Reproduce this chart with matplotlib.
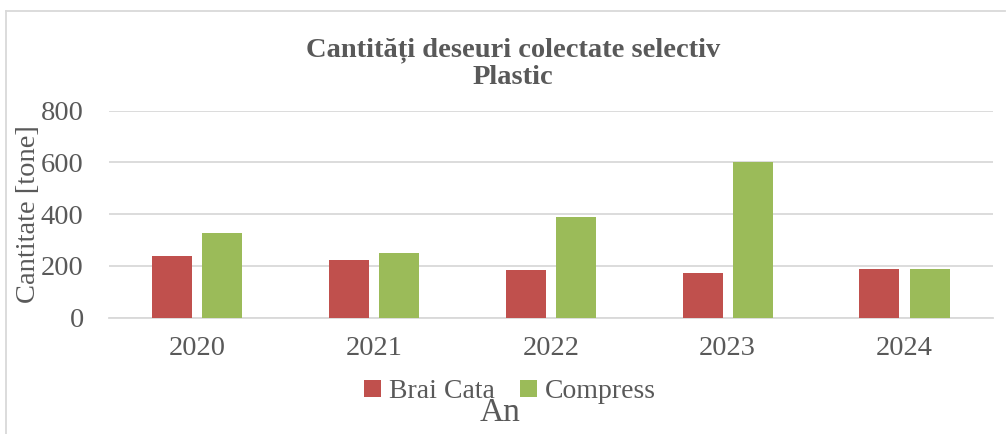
import matplotlib
matplotlib.use('Agg')
import matplotlib.pyplot as plt
from matplotlib.lines import Line2D
import numpy as np

# Plastic selectively collected per year, two collectors (tonnes)
years = ['2020', '2021', '2022', '2023', '2024']
brai_cata = [238, 223, 183, 173, 189]
compress = [326, 250, 391, 601, 188]

red = '#C0504D'
green = '#9BBB59'
grey_text = '#595959'
grid_col = '#D9D9D9'
serif = ['Liberation Serif', 'DejaVu Serif']

fig = plt.figure(figsize=(10.06, 4.34), dpi=100)
ax = fig.add_axes([0.108, 0.268, 0.879, 0.477])

x = np.arange(len(years))
w = 0.226
off = (w + 0.057) / 2
ax.bar(x - off, brai_cata, w, color=red, label='Brai Cata', zorder=3)
ax.bar(x + off, compress, w, color=green, label='Compress', zorder=3)

ax.set_xlim(-0.5, len(years) - 0.5)
ax.set_ylim(0, 800)
ax.set_yticks(range(0, 801, 200))
ax.set_xticks(x)
ax.set_xticklabels(years)
ax.yaxis.grid(True, color=grid_col, linewidth=1.3, zorder=0)
ax.set_axisbelow(True)
for side in ['top', 'right', 'left']:
    ax.spines[side].set_visible(False)
ax.spines['bottom'].set_color(grid_col)
ax.spines['bottom'].set_linewidth(1.3)
ax.tick_params(length=0, labelsize=20.5, labelcolor=grey_text)
ax.tick_params(axis='y', pad=18)
ax.tick_params(axis='x', pad=13)
for lbl in ax.get_xticklabels() + ax.get_yticklabels():
    lbl.set_family(serif)

ax.set_ylabel('Cantitate [tone]', fontsize=20.5, color=grey_text, family=serif)
ax.yaxis.set_label_coords(-0.077, 0.5)

fig.text(0.51, 0.853, 'Cantități deseuri colectate selectiv\nPlastic', ha='center', va='center',
         fontsize=20.5, fontweight='bold', color=grey_text, family=serif, linespacing=1.1)

leg = fig.legend(loc='center', bbox_to_anchor=(0.507, 0.097), ncol=2, frameon=False,
                 prop={'family': serif, 'size': 20}, handlelength=0.6, handleheight=0.6,
                 handletextpad=0.3, columnspacing=0.9, labelcolor=grey_text)

fig.text(0.497, 0.048, 'An', ha='center', va='center', fontsize=24, color=grey_text, family=serif)

# light frame on the left and top edges
fig.add_artist(Line2D([0.0055, 0.0055], [0, 0.975], color=grid_col, linewidth=1.3))
fig.add_artist(Line2D([0.0055, 0.999], [0.975, 0.975], color=grid_col, linewidth=1.3))

fig.savefig('out.png', dpi=100)
